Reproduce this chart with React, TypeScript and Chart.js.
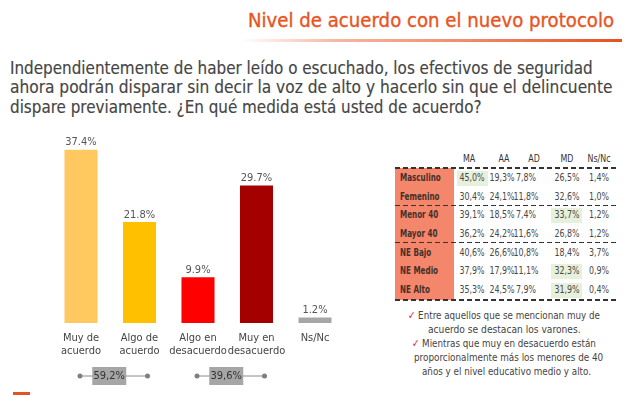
import React, { useEffect, useLayoutEffect, useRef, useState } from "react";
import { Chart, registerables } from "chart.js";

Chart.register(...registerables);

const FONT = "'DejaVu Sans Condensed', 'DejaVu Sans', sans-serif";

// ---------- DATA ----------
const titleText = "Nivel de acuerdo con el nuevo protocolo";
const questionLines = [
  "Independientemente de haber leído o escuchado, los efectivos de seguridad",
  "ahora podrán disparar sin decir la voz de alto y hacerlo sin que el delincuente",
  "dispare previamente. ¿En qué medida está usted de acuerdo?",
];

const categories = [
  ["Muy de", "acuerdo"],
  ["Algo de", "acuerdo"],
  ["Algo en", "desacuerdo"],
  ["Muy en", "desacuerdo"],
  ["Ns/Nc"],
];
const values = [37.4, 21.8, 9.9, 29.7, 1.2];
const barColors = ["#FFC95F", "#FFC000", "#FF0000", "#A50000", "#A6A6A6"];
const groupTotals = ["59,2%", "39,6%"];
const groupRanges = [
  [0, 1],
  [2, 3],
];

const tableCols = ["MA", "AA", "AD", "MD", "Ns/Nc"];
const tableRows = ["Masculino", "Femenino", "Menor 40", "Mayor 40", "NE Bajo", "NE Medio", "NE Alto"];
const rowMasculino = ["45,0%", "19,3%", "7,8%", "26,5%", "1,4%"];
const rowFemenino = ["30,4%", "24,1%", "11,8%", "32,6%", "1,0%"];
const rowMenor40 = ["39,1%", "18,5%", "7,4%", "33,7%", "1,2%"];
const rowMayor40 = ["36,2%", "24,2%", "11,6%", "26,8%", "1,2%"];
const rowNEBajo = ["40,6%", "26,6%", "10,8%", "18,4%", "3,7%"];
const rowNEMedio = ["37,9%", "17,9%", "11,1%", "32,3%", "0,9%"];
const rowNEAlto = ["35,3%", "24,5%", "7,9%", "31,9%", "0,4%"];
const tableValues = [rowMasculino, rowFemenino, rowMenor40, rowMayor40, rowNEBajo, rowNEMedio, rowNEAlto];
const highlightCells = [
  [0, 0],
  [2, 3],
  [5, 3],
  [6, 3],
];
const groupStarts = [0, 2, 4];

const notes = [
  { check: true, text: "Entre aquellos que se mencionan muy de" },
  { check: false, text: "acuerdo se destacan los varones." },
  { check: true, text: "Mientras que muy en desacuerdo están" },
  { check: false, text: "proporcionalmente más los menores de 40" },
  { check: false, text: "años y el nivel educativo medio y alto." },
];

// ---------- LAYOUT (styling only) ----------
const questionTops = [59.5, 79, 98.5];
const questionWidths = [583, 602, 472];
const noteCenters = [504, 504.5, 504, 508.5, 506.5];
const noteWidths = [192, 153, 184, 189, 169];
const noteTops = [309.5, 323.5, 338, 351.5, 365.5];
const headerX = [469, 503.5, 533.5, 566.5, 599];
const valueX = [472, 501.5, 526, 566.5, 598.5];

function FitText(props: { left: number; top: number; width: number; style?: React.CSSProperties; children: React.ReactNode }) {
  const ref = useRef<HTMLSpanElement>(null);
  const [sx, setSx] = useState(1);
  useLayoutEffect(() => {
    if (ref.current) {
      const w = ref.current.offsetWidth;
      if (w > 0) setSx(props.width / w);
    }
  }, [props.width]);
  return (
    <span
      ref={ref}
      style={{
        position: "absolute",
        left: props.left,
        top: props.top,
        whiteSpace: "nowrap",
        transform: `scaleX(${sx})`,
        transformOrigin: "left top",
        lineHeight: 1,
        ...props.style,
      }}
    >
      {props.children}
    </span>
  );
}

const valueLabelPlugin = {
  id: "valueLabels",
  afterDatasetsDraw(chart: any) {
    const ctx = chart.ctx;
    const meta = chart.getDatasetMeta(0);
    ctx.save();
    ctx.font = `11px ${FONT}`;
    ctx.fillStyle = "#555555";
    ctx.textAlign = "center";
    ctx.textBaseline = "alphabetic";
    meta.data.forEach((bar: any, i: number) => {
      ctx.fillText(values[i].toFixed(1) + "%", bar.x, bar.y - 4.5);
    });
    ctx.restore();
  },
};

const bracketPlugin = {
  id: "brackets",
  afterDraw(chart: any) {
    const ctx = chart.ctx;
    const xs = chart.scales.x;
    const y = chart.chartArea.bottom + 53;
    ctx.save();
    groupRanges.forEach((r, gi) => {
      const x0 = xs.getPixelForValue(r[0]) - 1;
      const x1 = xs.getPixelForValue(r[1]) + 8;
      const mid = (xs.getPixelForValue(r[0]) + xs.getPixelForValue(r[1])) / 2 - 1;
      ctx.strokeStyle = "#8a8a8a";
      ctx.lineWidth = 1;
      ctx.beginPath();
      ctx.moveTo(x0, y);
      ctx.lineTo(x1, y);
      ctx.stroke();
      ctx.fillStyle = "#7f7f7f";
      [x0, x1].forEach((x) => {
        ctx.beginPath();
        ctx.arc(x, y, 2.5, 0, Math.PI * 2);
        ctx.fill();
      });
      ctx.fillStyle = "#A6A6A6";
      ctx.fillRect(mid - 17, y - 9, 34, 18);
      ctx.fillStyle = "#333333";
      ctx.font = `11px ${FONT}`;
      ctx.textAlign = "center";
      ctx.textBaseline = "middle";
      ctx.fillText(groupTotals[gi], mid, y + 0.5);
    });
    ctx.restore();
  },
};

function BarChart() {
  const ref = useRef<HTMLCanvasElement>(null);
  useEffect(() => {
    if (!ref.current) return;
    const chart = new Chart(ref.current, {
      type: "bar",
      data: {
        labels: categories as any,
        datasets: [
          {
            data: values,
            backgroundColor: barColors,
            borderWidth: 0,
            barPercentage: 0.565,
            categoryPercentage: 1,
          },
        ],
      },
      options: {
        animation: false,
        responsive: false,
        maintainAspectRatio: false,
        events: [],
        layout: { padding: { left: 51.75, right: 15.75, top: 17.8, bottom: 34 } },
        plugins: { legend: { display: false }, tooltip: { enabled: false }, title: { display: false } },
        scales: {
          x: {
            grid: { display: false, drawTicks: false },
            border: { display: false },
            ticks: {
              color: "#444444",
              font: { family: FONT, size: 11, lineHeight: 1.18 },
              padding: 9,
              maxRotation: 0,
              minRotation: 0,
              autoSkip: false,
            },
            afterFit: (s: any) => {
              s.height = 38;
            },
          },
          y: { display: false, min: 0, max: 40 },
        },
      },
      plugins: [valueLabelPlugin, bracketPlugin],
    });
    return () => chart.destroy();
  }, []);
  return <canvas ref={ref} width={360} height={275} style={{ position: "absolute", left: 0, top: 120 }} />;
}

function Table() {
  const rowY = (i: number) => 178 + i * 18.67;
  const dashY = [...groupStarts.map((g) => rowY(g) - 10), rowY(tableRows.length - 1) + 10];
  const cellBase: React.CSSProperties = {
    position: "absolute",
    fontFamily: FONT,
    fontSize: 11,
    lineHeight: "12px",
    color: "#474747",
    whiteSpace: "nowrap",
    transform: "translate(-50%, -50%) scaleX(0.8)",
  };
  return (
    <>
      <div
        style={{
          position: "absolute",
          left: 395,
          top: dashY[0],
          width: 59,
          height: dashY[dashY.length - 1] - dashY[0],
          background: "#F4866B",
        }}
      />
      {highlightCells.map(([r, c], k) => (
        <div
          key={"h" + k}
          style={{
            position: "absolute",
            left: valueX[c] - 15.5,
            top: rowY(r) - 7,
            width: 31,
            height: 15,
            background: "#E7F0DB",
          }}
        />
      ))}
      {tableCols.map((c, i) => (
        <span key={"c" + i} style={{ ...cellBase, left: headerX[i], top: 159, color: "#333" }}>
          {c}
        </span>
      ))}
      {tableRows.map((r, i) => (
        <span
          key={"r" + i}
          style={{
            position: "absolute",
            left: 400,
            top: rowY(i) - 6,
            fontFamily: FONT,
            fontSize: 10,
            fontWeight: "bold",
            lineHeight: "12px",
            color: "#45302a",
            whiteSpace: "nowrap",
            transform: "scaleX(0.8)",
            transformOrigin: "left center",
          }}
        >
          {r}
        </span>
      ))}
      {tableValues.map((row, ri) =>
        row.map((v, ci) => (
          <span key={"v" + ri + "_" + ci} style={{ ...cellBase, left: valueX[ci], top: rowY(ri) }}>
            {v}
          </span>
        ))
      )}
      {dashY.map((y, k) => (
        <div
          key={"d" + k}
          style={{
            position: "absolute",
            left: 395,
            top: y - 0.75,
            width: 222,
            height: 1.5,
            background: "repeating-linear-gradient(to right, #333 0px, #333 5px, transparent 5px, transparent 8px)",
          }}
        />
      ))}
    </>
  );
}

export default function App() {
  return (
    <div
      style={{
        position: "fixed",
        left: 0,
        top: 0,
        width: 624,
        height: 395,
        overflow: "hidden",
        background: "#ffffff",
        fontFamily: FONT,
      }}
    >
      <FitText
        left={248}
        top={10}
        width={366}
        style={{ fontSize: 20, color: "#E8551F", WebkitTextStroke: "0.35px #E8551F" } as any}
      >
        {titleText}
      </FitText>
      <div
        style={{
          position: "absolute",
          left: 240,
          top: 39,
          width: 382,
          height: 3,
          background: "linear-gradient(to right, rgba(255,255,255,0) 0%, #F7B7A3 25%, #F08A6A 60%, #E8501E 100%)",
        }}
      />
      {questionLines.map((l, i) => (
        <FitText
          key={i}
          left={10}
          top={questionTops[i]}
          width={questionWidths[i]}
          style={{ fontSize: 17, color: "#454545", WebkitTextStroke: "0.15px #454545" } as any}
        >
          {l}
        </FitText>
      ))}
      <BarChart />
      <Table />
      {notes.map((n, i) => (
        <FitText
          key={"n" + i}
          left={noteCenters[i] - noteWidths[i] / 2}
          top={noteTops[i]}
          width={noteWidths[i]}
          style={{ fontSize: 11, color: "#444" }}
        >
          {n.check ? <span style={{ color: "#E0201E" }}>✓ </span> : null}
          {n.text}
        </FitText>
      ))}
      <div style={{ position: "absolute", left: 13, top: 392, width: 17, height: 3, background: "#E8501E" }} />
    </div>
  );
}
